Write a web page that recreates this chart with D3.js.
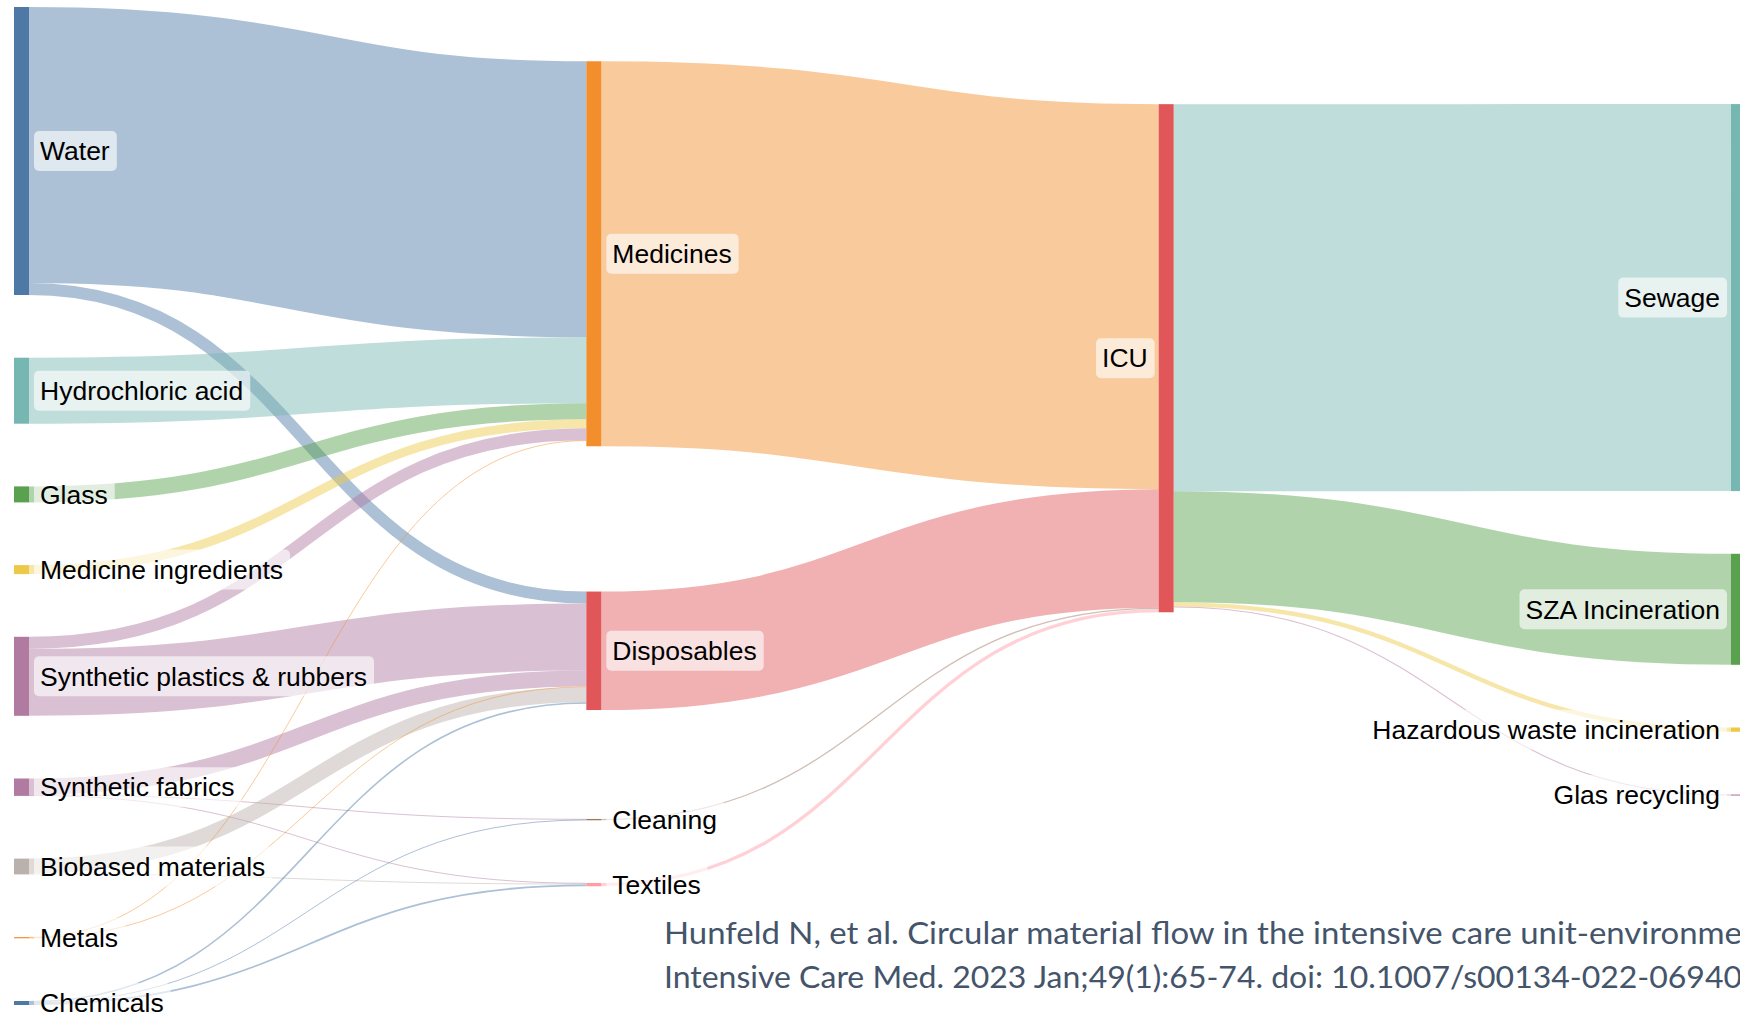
<!DOCTYPE html>
<html><head><meta charset="utf-8">
<script src="https://cdn.jsdelivr.net/npm/d3@7"></script>
<style>
html,body{margin:0;padding:0;background:#fff;overflow:hidden}
svg{display:block}
</style></head>
<body>
<svg id="chart" width="1740" height="1013"></svg>
<script>
// ---------- DATA ----------
const nodeNames = [
  "Water", "Hydrochloric acid", "Glass", "Medicine ingredients",
  "Synthetic plastics & rubbers", "Synthetic fabrics", "Biobased materials",
  "Metals", "Chemicals",
  "Medicines", "Disposables", "Cleaning", "Textiles",
  "ICU",
  "Sewage", "SZA Incineration", "Hazardous waste incineration", "Glas recycling"
];
const linkSources = [
  "Water", "Water", "Hydrochloric acid", "Glass", "Medicine ingredients",
  "Synthetic plastics & rubbers", "Synthetic plastics & rubbers",
  "Synthetic fabrics", "Synthetic fabrics", "Synthetic fabrics",
  "Biobased materials", "Biobased materials",
  "Metals", "Metals",
  "Chemicals", "Chemicals", "Chemicals",
  "Medicines", "Disposables", "Cleaning", "Textiles",
  "ICU", "ICU", "ICU", "ICU"
];
const linkTargets = [
  "Medicines", "Disposables", "Medicines", "Medicines", "Medicines",
  "Medicines", "Disposables",
  "Disposables", "Cleaning", "Textiles",
  "Disposables", "Textiles",
  "Medicines", "Disposables",
  "Disposables", "Cleaning", "Textiles",
  "ICU", "ICU", "ICU", "ICU",
  "Sewage", "SZA Incineration", "Hazardous waste incineration", "Glas recycling"
];
const linkValues = [
  276, 12, 66, 16, 9,
  12, 67,
  16, 0.7, 0.7,
  15, 0.8,
  0.6, 0.6,
  1.6, 0.6, 1.8,
  385, 118.5, 1.3, 3.3,
  387, 111, 4.3, 1.1
];
const nodeColors = [
  "#4e79a7", "#76b7b2", "#59a14f", "#edc948", "#b07aa1", "#b07aa1", "#bab0ac",
  "#f28e2b", "#4e79a7",
  "#f28e2b", "#e15759", "#9c755f", "#ff9da7",
  "#e15759",
  "#76b7b2", "#59a14f", "#edc948", "#b07aa1"
];
const citationLines = [
  "Hunfeld N, et al. Circular material flow in the intensive care unit-environme",
  "Intensive Care Med. 2023 Jan;49(1):65-74. doi: 10.1007/s00134-022-06940"
];

// ---------- SANKEY LAYOUT (d3-sankey style relaxation, nodes kept in listed order) ----------
function sankeyLayout(nodes, links, opt) {
  const {x0, y0, x1, y1, dx, dy, iterations} = opt;
  const byName = new Map(nodes.map(n => [n.name, n]));
  nodes.forEach((n, i) => { n.index = i; n.sourceLinks = []; n.targetLinks = []; });
  links.forEach((l, i) => {
    l.index = i;
    l.source = byName.get(l.source); l.target = byName.get(l.target);
    l.source.sourceLinks.push(l); l.target.targetLinks.push(l);
  });
  nodes.forEach(n => n.value = Math.max(d3.sum(n.sourceLinks, l => l.value), d3.sum(n.targetLinks, l => l.value)));
  let current = new Set(nodes), next = new Set, x = 0;
  while (current.size) {
    for (const n of current) { n.depth = x; for (const l of n.sourceLinks) next.add(l.target); }
    x++; current = next; next = new Set;
  }
  const nL = d3.max(nodes, n => n.depth) + 1;
  const kx = (x1 - x0 - dx) / (nL - 1);
  const columns = Array.from({length: nL}, () => []);
  nodes.forEach(n => {
    const i = n.sourceLinks.length ? n.depth : nL - 1;
    n.layer = i; n.x0 = x0 + i * kx; n.x1 = n.x0 + dx; columns[i].push(n);
  });
  const py = dy;
  const ascBreadth = (a, b) => a.y0 - b.y0;
  const ascSrc = (a, b) => ascBreadth(a.source, b.source) || a.index - b.index;
  const ascTgt = (a, b) => ascBreadth(a.target, b.target) || a.index - b.index;
  const ky = d3.min(columns, c => (y1 - y0 - (c.length - 1) * py) / d3.sum(c, n => n.value));
  for (const col of columns) {
    let y = y0;
    for (const n of col) {
      n.y0 = y; n.y1 = y + n.value * ky; y = n.y1 + py;
      for (const l of n.sourceLinks) l.width = l.value * ky;
    }
    y = (y1 - y + py) / (col.length + 1);
    col.forEach((n, i) => { n.y0 += y * (i + 1); n.y1 += y * (i + 1); });
    for (const n of col) { n.sourceLinks.sort(ascTgt); n.targetLinks.sort(ascSrc); }
  }
  function reorderNodeLinks(n) {
    for (const l of n.targetLinks) l.source.sourceLinks.sort(ascTgt);
    for (const l of n.sourceLinks) l.target.targetLinks.sort(ascSrc);
  }
  function targetTop(source, target) {
    let y = source.y0;
    for (const l of source.sourceLinks) { if (l.target === target) break; y += l.width; }
    for (const l of target.targetLinks) { if (l.source === source) break; y -= l.width; }
    return y;
  }
  function sourceTop(source, target) {
    let y = target.y0;
    for (const l of target.targetLinks) { if (l.source === source) break; y += l.width; }
    for (const l of source.sourceLinks) { if (l.target === target) break; y -= l.width; }
    return y;
  }
  function resolve(col) {
    let y = y0, n;
    for (n of col) { const d = y - n.y0; if (d > 0) { n.y0 += d; n.y1 += d; } y = n.y1 + py; }
    let d = y - py - y1;
    if (d > 0) {
      for (let i = col.length - 1; i >= 0; --i) {
        n = col[i];
        if (i === col.length - 1) { n.y0 -= d; n.y1 -= d; }
        else { const e = n.y1 + py - y; if (e > 0) { n.y0 -= e; n.y1 -= e; } }
        y = n.y0;
      }
    }
  }
  columns.forEach(resolve);
  for (let it = 0; it < iterations; ++it) {
    const alpha = Math.pow(0.99, it + 1);
    for (let i = nL - 2; i >= 0; --i) {
      const col = columns[i];
      for (const s of col) {
        let y = 0, w = 0;
        for (const l of s.sourceLinks) { const v = l.value * (l.target.layer - s.layer); y += sourceTop(s, l.target) * v; w += v; }
        if (!(w > 0)) continue;
        const d = (y / w - s.y0) * alpha; s.y0 += d; s.y1 += d; reorderNodeLinks(s);
      }
      resolve(col);
    }
    for (let i = 1; i < nL; ++i) {
      const col = columns[i];
      for (const t of col) {
        let y = 0, w = 0;
        for (const l of t.targetLinks) { const v = l.value * (t.layer - l.source.layer); y += targetTop(l.source, t) * v; w += v; }
        if (!(w > 0)) continue;
        const d = (y / w - t.y0) * alpha; t.y0 += d; t.y1 += d; reorderNodeLinks(t);
      }
      resolve(col);
    }
  }
  for (const n of nodes) {
    let a = n.y0, b = n.y0;
    for (const l of n.sourceLinks) { l.y0 = a + l.width / 2; a += l.width; }
    for (const l of n.targetLinks) { l.y1 = b + l.width / 2; b += l.width; }
  }
  return {nodes, links};
}

// ---------- BUILD ----------
const W = 1740, H = 1013;
const nodes = nodeNames.map((name, i) => ({name, color: nodeColors[i]}));
const links = linkValues.map((v, i) => ({source: linkSources[i], target: linkTargets[i], value: v}));
const graph = sankeyLayout(nodes, links, {x0: 14, x1: 1746, y0: 7, y1: 1005, dx: 15, dy: 62.7, iterations: 54});

const svg = d3.select("#chart");
svg.append("rect").attr("width", W).attr("height", H).attr("fill", "#fff");

const linkPath = d3.linkHorizontal()
  .source(d => [d.source.x1, d.y0])
  .target(d => [d.target.x0, d.y1]);

svg.append("g").attr("fill", "none")
  .selectAll("path").data(graph.links).join("path")
  .attr("d", linkPath)
  .attr("stroke", d => d.source.layer < 2 ? d.source.color : d.target.color)
  .attr("stroke-opacity", 0.47)
  .attr("stroke-width", d => Math.max(1, d.width));

svg.append("g").selectAll("rect").data(graph.nodes).join("rect")
  .attr("x", d => d.x0).attr("y", d => d.y0)
  .attr("width", d => d.x1 - d.x0).attr("height", d => Math.max(1, d.y1 - d.y0))
  .attr("fill", d => d.color);

const lab = svg.append("g").selectAll("g").data(graph.nodes).join("g");
const labText = lab.append("text")
  .attr("x", d => d.x0 < W / 2 ? d.x1 + 11 : d.x0 - 11)
  .attr("y", d => (d.y0 + d.y1) / 2)
  .attr("dy", "0.35em")
  .attr("text-anchor", d => d.x0 < W / 2 ? "start" : "end")
  .attr("font-family", "'Liberation Sans', Arial, Helvetica, sans-serif")
  .attr("font-size", 26.5)
  .attr("fill", "#000")
  .text(d => d.name);
labText.each(function(d) {
  const bb = this.getBBox();
  d3.select(this.parentNode).insert("rect", "text")
    .attr("x", bb.x - 6).attr("y", (d.y0 + d.y1) / 2 - 20)
    .attr("width", bb.width + 13).attr("height", 40)
    .attr("rx", 5)
    .attr("fill", "#fff").attr("fill-opacity", 0.62);
});

svg.append("g").selectAll("text").data(citationLines).join("text")
  .attr("x", 664)
  .attr("y", (d, i) => 933 + i * 44)
  .attr("dy", "0.35em")
  .attr("font-family", "Lato, 'Open Sans', sans-serif")
  .attr("font-size", 31)
  .attr("fill", "#44546a")
  .attr("textLength", 1078)
  .attr("lengthAdjust", "spacingAndGlyphs")
  .text(d => d);
</script>
</body></html>
